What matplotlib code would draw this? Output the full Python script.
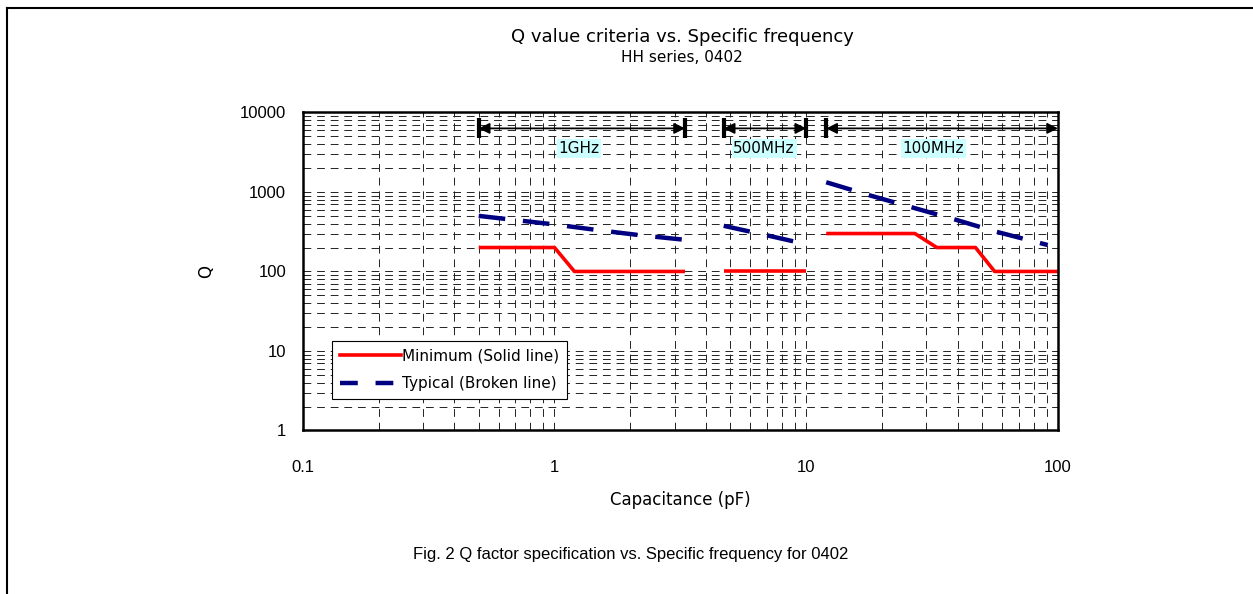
import matplotlib
matplotlib.use("Agg")
import matplotlib.pyplot as plt
from matplotlib.lines import Line2D

# Minimum Q (solid red), three frequency bands
min_1g_c = [0.5, 1.0, 1.2, 3.3]
min_1g_q = [200, 200, 100, 100]
min_500m_c = [4.7, 10]
min_500m_q = [100, 100]
min_100m_c = [12, 27, 33, 47, 56, 100]
min_100m_q = [300, 300, 200, 200, 100, 100]

# Typical Q (dashed navy)
typ_1g_c = [0.5, 1.0, 1.5, 2.2, 3.3]
typ_1g_q = [500, 390, 330, 285, 250]
typ_500m_c = [4.7, 6.8, 10]
typ_500m_q = [375, 290, 220]
typ_100m_c = [12, 18, 27, 39, 56, 91]
typ_100m_q = [1325, 900, 625, 450, 320, 215]

# Frequency bands (start, end, label)
bands = [(0.5, 3.3, "1GHz"), (4.7, 10, "500MHz"), (12, 100, "100MHz")]
band_label_x = [1.25, 6.8, 32]

fig = plt.figure(figsize=(12.53, 5.94), dpi=100)
ax = fig.add_axes([0.2416, 0.2753, 0.6028, 0.5354])
ax.set_xscale("log")
ax.set_yscale("log")
ax.set_xlim(0.1, 100)
ax.set_ylim(1, 10000)

grid_kw = dict(color="#222222", lw=0.7, ls=(0, (8, 6)))
ax.grid(True, which="both", axis="both", **grid_kw)
ax.set_axisbelow(True)

red = "#ff0000"
navy = "#000080"
for c, q in [(min_1g_c, min_1g_q), (min_500m_c, min_500m_q), (min_100m_c, min_100m_q)]:
    ax.plot(c, q, color=red, lw=2.6, solid_capstyle="butt")
for c, q in [(typ_1g_c, typ_1g_q), (typ_500m_c, typ_500m_q), (typ_100m_c, typ_100m_q)]:
    ax.plot(c, q, color=navy, lw=3.2, ls=(0, (6, 4)), dash_capstyle="butt")

# legend proxies
h1 = Line2D([], [], color=red, lw=2.6)
h2 = Line2D([], [], color=navy, lw=3.2, ls=(0, (4, 4)))
leg = ax.legend([h1, h2], ["Minimum (Solid line)", "Typical (Broken line)"],
                loc="lower left", bbox_to_anchor=(0.039, 0.1), fancybox=False,
                edgecolor="black", framealpha=1, fontsize=11, handlelength=4.0,
                handletextpad=0.1, borderpad=0.5, labelspacing=0.8, borderaxespad=0)
leg.get_frame().set_linewidth(0.8)

arrow_y = 6300
for (a, b, lab), lx in zip(bands, band_label_x):
    ax.annotate("", xy=(a, arrow_y), xytext=(b, arrow_y),
                arrowprops=dict(arrowstyle="<|-|>", color="black", lw=1.3,
                                mutation_scale=16, shrinkA=0, shrinkB=0))
    ends = [a, b] if b < 100 else [a]
    ax.plot(ends, [arrow_y] * len(ends), ls="none", marker="|", ms=15, mew=3, color="black")
    ax.text(lx, 3550, lab, ha="center", va="center", fontsize=11,
            bbox=dict(boxstyle="square,pad=0.12", fc="#ccffff", ec="none"))

for s in ax.spines.values():
    s.set_linewidth(1.8)
ax.tick_params(which="both", length=0)
ax.set_xticks([0.1, 1, 10, 100])
ax.set_xticklabels(["0.1", "1", "10", "100"], fontfamily="Liberation Sans", fontsize=12)
ax.set_yticks([1, 10, 100, 1000, 10000])
ax.set_yticklabels(["1", "10", "100", "1000", "10000"], fontfamily="Liberation Sans", fontsize=12)
ax.tick_params(axis="x", pad=21)
ax.tick_params(axis="y", pad=12)
ax.minorticks_on()
ax.tick_params(which="minor", length=0, labelleft=False, labelbottom=False)

ax.set_xlabel("Capacitance (pF)", fontsize=12, labelpad=12)
ax.set_ylabel("Q", fontsize=12, labelpad=18)

fig.text(0.5445, 1 - 37 / 594, "Q value criteria vs. Specific frequency", ha="center", va="center", fontsize=13)
fig.text(0.5445, 1 - 58 / 594, "HH series, 0402", ha="center", va="center", fontsize=11)
fig.text(631 / 1253, 1 - 555 / 594, "Fig. 2 Q factor specification vs. Specific frequency for 0402",
         ha="center", va="center", fontsize=12, fontfamily="Liberation Sans")

# outer frame (left and top)
fig.add_artist(Line2D([6.5 / 1253, 6.5 / 1253], [0, 1 - 8 / 594], color="black", lw=1.5))
fig.add_artist(Line2D([6.5 / 1253, 1], [1 - 8 / 594, 1 - 8 / 594], color="black", lw=1.5))

fig.savefig("out.png", dpi=100)
